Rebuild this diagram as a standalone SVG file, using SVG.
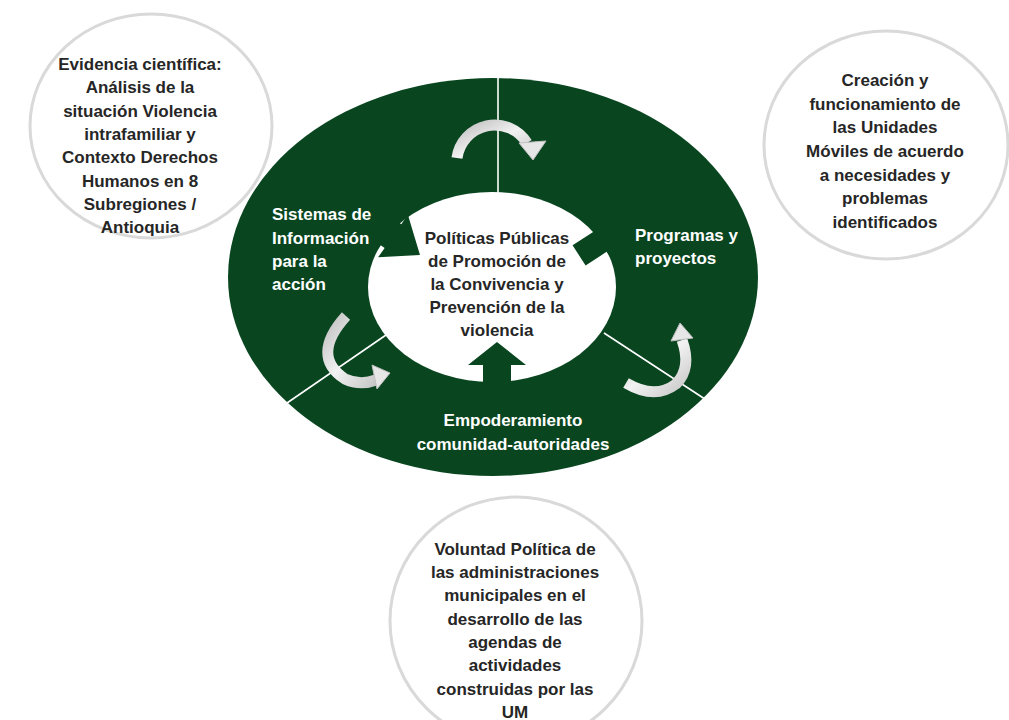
<svg xmlns="http://www.w3.org/2000/svg" width="1009" height="720" viewBox="0 0 1009 720">
<defs>
<linearGradient id="gr" x1="0" y1="0" x2="1" y2="1">
<stop offset="0" stop-color="#bfbfbf"/>
<stop offset="0.5" stop-color="#f2f2f2"/>
<stop offset="1" stop-color="#c8c8c8"/>
</linearGradient>
<style>
.bub{fill:#fff;stroke:#d9d9d9;stroke-width:3}
.t{font-family:"Liberation Sans",Arial,sans-serif;font-weight:bold;font-size:17px;fill:#262626;text-anchor:middle}
.w{font-family:"Liberation Sans",Arial,sans-serif;font-weight:bold;font-size:17px;fill:#fff}
.div{stroke:#fff;stroke-width:1.6}
.ca{fill:none;stroke:url(#gr);stroke-width:11}
.hd{fill:#e6e6e6;stroke:#bfbfbf;stroke-width:1}
.ga{fill:#094620}
</style>
</defs>
<rect width="1009" height="720" fill="#fff"/>

<g id="evidencia">
<ellipse class="bub" cx="151" cy="126" rx="121" ry="112"/>
<text class="t" x="140" y="70">Evidencia científica:</text>
<text class="t" x="140" y="93">Análisis de la</text>
<text class="t" x="140" y="117">situación Violencia</text>
<text class="t" x="140" y="140">intrafamiliar y</text>
<text class="t" x="140" y="163">Contexto Derechos</text>
<text class="t" x="140" y="187">Humanos en 8</text>
<text class="t" x="140" y="210">Subregiones /</text>
<text class="t" x="140" y="233">Antioquia</text>
</g>

<g id="creacion">
<ellipse class="bub" cx="886" cy="145" rx="122" ry="114"/>
<text class="t" x="885" y="86">Creación y</text>
<text class="t" x="885" y="110">funcionamiento de</text>
<text class="t" x="885" y="133">las Unidades</text>
<text class="t" x="885" y="157">Móviles de acuerdo</text>
<text class="t" x="885" y="181">a necesidades y</text>
<text class="t" x="885" y="204">problemas</text>
<text class="t" x="885" y="228">identificados</text>
</g>

<g id="voluntad">
<ellipse class="bub" cx="516" cy="621" rx="126" ry="124"/>
<text class="t" x="515" y="555">Voluntad Política de</text>
<text class="t" x="515" y="578">las administraciones</text>
<text class="t" x="515" y="601">municipales en el</text>
<text class="t" x="515" y="625">desarrollo de las</text>
<text class="t" x="515" y="648">agendas de</text>
<text class="t" x="515" y="671">actividades</text>
<text class="t" x="515" y="695">construidas por las</text>
<text class="t" x="515" y="718">UM</text>
</g>

<g id="ciclo">
<ellipse cx="493" cy="277" rx="265" ry="199" fill="#094620"/>
<ellipse cx="492" cy="287" rx="124" ry="95" fill="#fff"/>
</g>

<g id="connectors">
<line class="div" x1="498" y1="78" x2="498" y2="193"/>
<line class="div" x1="287" y1="403" x2="386" y2="335"/>
<line class="div" x1="604" y1="333" x2="714" y2="405"/>
<polygon class="ga" points="0,0 -33,-26 -33,-14.5 -95,-14.5 -95,14.5 -33,14.5 -33,26" transform="translate(420,255) rotate(35)"/>
<polygon class="ga" points="0,0 -22,-26 -22,-12 -47,-12 -47,12 -22,12 -22,26" transform="translate(618.5,229.8) rotate(-33)"/>
<polygon class="ga" points="497,342 526,365 511,365 511,385 483,385 483,365 468,365"/>
<path class="ca" d="M 457 158 A 38 38 0 0 1 527 143"/>
<polygon class="hd" points="519,143 546,141 533,160"/>
<path class="ca" d="M 346 316 Q 310 356 345 379 Q 360 386 376 380"/>
<polygon class="hd" points="390,373 372,365 377,389"/>
<path class="ca" d="M 626 383 Q 655 400 676 384 Q 692 368 682 340"/>
<polygon class="hd" points="680,323 693,338 671,341"/>
</g>

<g id="labels">
<text class="w" x="272" y="220">Sistemas de</text>
<text class="w" x="272" y="244">Información</text>
<text class="w" x="272" y="267">para la</text>
<text class="w" x="272" y="290">acción</text>
<text class="w" x="635" y="241">Programas y</text>
<text class="w" x="635" y="264">proyectos</text>
<text class="w" x="513" y="426" text-anchor="middle">Empoderamiento</text>
<text class="w" x="513" y="450" text-anchor="middle">comunidad-autoridades</text>
<text class="t" x="497" y="244">Políticas Públicas</text>
<text class="t" x="497" y="267">de Promoción de</text>
<text class="t" x="497" y="290">la Convivencia y</text>
<text class="t" x="497" y="313">Prevención de  la</text>
<text class="t" x="497" y="336">violencia</text>
</g>
</svg>
